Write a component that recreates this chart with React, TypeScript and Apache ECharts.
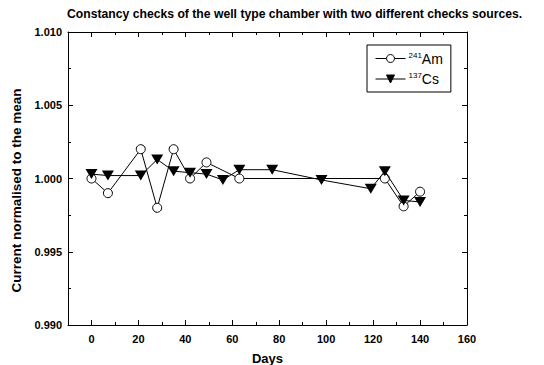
import React, { useEffect, useRef } from "react";
import * as echarts from "echarts";

const amDays = [0, 7, 21, 28, 35, 42, 49, 63, 125, 133, 140];
const amValues = [1.0, 0.999, 1.002, 0.998, 1.002, 1.0, 1.0011, 1.0, 1.0, 0.9981, 0.9991];
const csDays = [0, 7, 21, 28, 35, 42, 49, 56, 63, 77, 98, 119, 125, 133, 140];
const csValues = [1.0003, 1.0002, 1.0002, 1.0013, 1.0005, 1.0004, 1.0003, 0.9999, 1.0006, 1.0006, 0.9999, 0.9993, 1.0005, 0.9985, 0.9984];
const xMajorTicks = [0, 20, 40, 60, 80, 100, 120, 140, 160];
const xMinorTicks = [10, 30, 50, 70, 90, 110, 130, 150];

const FONT = "'Liberation Sans', Arial, Helvetica, sans-serif";

export default function App() {
  const ref = useRef<HTMLDivElement>(null);
  useEffect(() => {
    if (!ref.current) return;
    const chart = echarts.init(ref.current, undefined, { renderer: "svg" });
    const xBase = { type: "value", min: -10, max: 160, splitLine: { show: false } };
    const lineStyle = { color: "#000", width: 1 };
    chart.setOption({
      animation: false,
      backgroundColor: "#fff",
      textStyle: { fontFamily: FONT, color: "#000" },
      title: {
        text: "Constancy checks of the well type chamber with two different checks sources.",
        left: 67,
        top: 8,
        padding: 0,
        textStyle: { fontFamily: FONT, fontSize: 12.2, fontWeight: "bold", color: "#000" },
      },
      grid: { left: 68, right: 77, top: 32, bottom: 40, containLabel: false, outerBoundsMode: "none" },
      legend: {
        left: 367,
        top: 45,
        orient: "vertical",
        backgroundColor: "#fff",
        borderColor: "#000",
        borderWidth: 1,
        borderRadius: 0,
        padding: [6, 8, 6, 8],
        itemGap: 6,
        itemWidth: 30,
        itemHeight: 10,
        lineStyle: { width: 1, color: "#000" },
        itemStyle: { borderWidth: 1 },
        data: ["Am", "Cs"],
        formatter: (name: string) => (name === "Am" ? "{sup|241}{main|Am}" : "{sup|137}{main|Cs}"),
        textStyle: {
          padding: [0, 0, 0, -2],
          rich: {
            sup: { fontSize: 8, fontFamily: FONT, color: "#000", verticalAlign: "bottom", padding: [0, 0, 7, 0] },
            main: { fontSize: 14, fontFamily: FONT, color: "#000" },
          },
        },
      },
      xAxis: [
        {
          ...xBase,
          position: "bottom",
          name: "Days",
          nameLocation: "middle",
          nameGap: 27,
          nameTextStyle: { fontFamily: FONT, fontSize: 13, fontWeight: "bold", color: "#000" },
          axisLine: { show: true, onZero: false, lineStyle },
          axisTick: { show: true, inside: true, length: 5, lineStyle, customValues: xMajorTicks },
          axisLabel: {
            show: true,
            margin: 8,
            customValues: xMajorTicks,
            fontFamily: FONT,
            fontSize: 11,
            fontWeight: "bold",
            color: "#000",
          },
        },
        {
          ...xBase,
          position: "bottom",
          axisLine: { show: false, onZero: false },
          axisTick: { show: true, inside: true, length: 3, lineStyle, customValues: xMinorTicks },
          axisLabel: { show: false },
        },
        {
          ...xBase,
          position: "top",
          axisLine: { show: true, onZero: false, lineStyle },
          axisTick: { show: true, inside: true, length: 5, lineStyle, customValues: xMajorTicks },
          axisLabel: { show: false },
        },
        {
          ...xBase,
          position: "top",
          axisLine: { show: false, onZero: false },
          axisTick: { show: true, inside: true, length: 3, lineStyle, customValues: xMinorTicks },
          axisLabel: { show: false },
        },
      ],
      yAxis: [
        {
          type: "value",
          position: "left",
          min: 0.99,
          max: 1.01,
          interval: 0.005,
          name: "Current normalised to the mean",
          nameLocation: "middle",
          nameGap: 44,
          nameTextStyle: {
            fontFamily: FONT,
            fontSize: 13.5,
            fontWeight: "bold",
            color: "#000",
            padding: [0, 24, 0, 0],
          },
          splitLine: { show: false },
          axisLine: { show: true, onZero: false, lineStyle },
          axisTick: { show: true, inside: true, length: 5, lineStyle },
          minorTick: { show: true, splitNumber: 2, length: 3, lineStyle },
          axisLabel: {
            margin: 6,
            fontFamily: FONT,
            fontSize: 11,
            fontWeight: "bold",
            color: "#000",
            formatter: (v: number) => v.toFixed(3),
          },
        },
        {
          type: "value",
          position: "right",
          min: 0.99,
          max: 1.01,
          interval: 0.005,
          splitLine: { show: false },
          axisLine: { show: true, onZero: false, lineStyle },
          axisTick: { show: true, inside: true, length: 5, lineStyle },
          minorTick: { show: true, splitNumber: 2, length: 3, lineStyle },
          axisLabel: { show: false },
        },
      ],
      series: [
        {
          name: "Am",
          type: "line",
          xAxisIndex: 0,
          yAxisIndex: 0,
          data: amDays.map((d, i) => [d, amValues[i]]),
          symbol: "circle",
          symbolSize: 9,
          showAllSymbol: true,
          lineStyle: { color: "#000", width: 1 },
          itemStyle: { color: "#fff", borderColor: "#000", borderWidth: 1 },
          z: 2,
        },
        {
          name: "Cs",
          type: "line",
          xAxisIndex: 0,
          yAxisIndex: 0,
          data: csDays.map((d, i) => [d, csValues[i]]),
          symbol: "triangle",
          symbolRotate: 180,
          symbolSize: [12, 10],
          showAllSymbol: true,
          lineStyle: { color: "#000", width: 1 },
          itemStyle: { color: "#000", borderColor: "#000", borderWidth: 0 },
          z: 3,
        },
      ],
    });
    return () => chart.dispose();
  }, []);
  return <div ref={ref} style={{ width: 544, height: 365, position: "absolute", left: 0, top: 0 }} />;
}
